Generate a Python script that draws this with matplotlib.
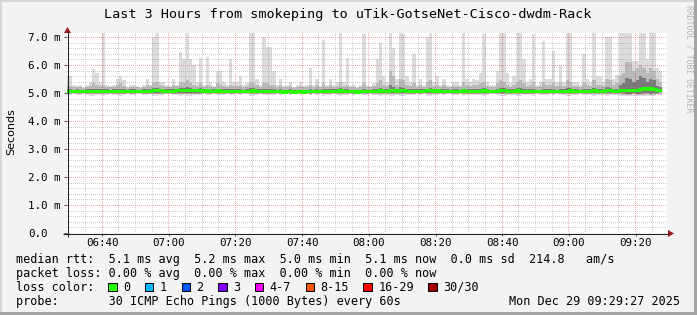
import matplotlib
matplotlib.use("Agg")
import matplotlib.pyplot as plt
import matplotlib.dates as mdates
import matplotlib.transforms as mtransforms
from matplotlib.patches import Rectangle, Polygon
from datetime import datetime, timedelta
import numpy as np


def vals(s):
    return [float(v) for v in s.split()]


# ---------------- data (one value per 60 s step, starting 06:29) ----------------
ping_max = vals("""
5.6 5.6 5.3 5.25 5.3 5.2 5.3 5.4 5.85 5.7
5.4 7.2 5.3 5.25 5.3 5.5 5.6 5.45 5.2 5.3
5.3 5.25 5.2 5.3 5.5 5.3 7.0 7.2 5.4 5.4
5.3 5.25 5.5 5.3 6.46 6.2 7.2 6.2 6.0 5.4
6.24 5.3 6.3 5.4 5.25 5.8 5.8 5.4 5.3 6.2
5.4 5.4 5.6 5.3 5.35 7.2 7.2 5.5 5.3 7.0
6.65 6.65 5.8 5.3 5.5 5.25 5.3 5.4 5.2 5.3
5.4 5.25 5.3 5.9 5.3 5.5 5.25 6.9 5.3 5.5
5.3 5.4 7.2 5.4 6.25 5.25 5.3 5.2 5.3 7.1
5.3 5.25 5.35 6.2 6.8 5.6 5.4 7.2 6.6 5.5
7.2 7.1 5.6 5.4 6.4 5.3 5.5 5.3 7.0 7.2
5.4 5.6 5.3 5.5 5.3 5.25 5.4 5.4 5.3 7.2
5.5 5.4 5.5 5.46 5.7 7.1 5.4 5.3 5.3 5.8
7.2 7.2 5.7 5.35 5.6 7.2 7.2 6.2 5.4 5.5
7.1 5.3 5.4 6.85 5.5 5.5 6.5 5.4 6.0 5.4
7.2 7.2 5.4 5.4 5.3 6.4 5.5 5.4 7.2 5.6
5.6 5.4 7.0 7.0 5.5 5.65 7.2 7.2 7.2 7.2
6.15 6.15 7.2 7.2 6.2 7.2 7.2 5.9 5.8
""")

ping_hi2 = vals("""
5.3 5.25 5.2 5.2 5.22 5.18 5.2 5.25 5.35 5.3
5.25 5.3 5.2 5.2 5.2 5.3 5.35 5.25 5.18 5.2
5.2 5.2 5.18 5.22 5.3 5.25 5.35 5.4 5.3 5.25
5.22 5.2 5.3 5.25 5.4 5.35 5.45 5.35 5.3 5.25
5.35 5.22 5.3 5.25 5.2 5.35 5.3 5.25 5.2 5.3
5.25 5.25 5.3 5.2 5.25 5.4 5.35 5.3 5.2 5.35
5.35 5.3 5.3 5.22 5.28 5.2 5.22 5.25 5.18 5.2
5.25 5.2 5.22 5.3 5.22 5.28 5.2 5.35 5.22 5.3
5.22 5.25 5.4 5.25 5.3 5.2 5.22 5.18 5.22 5.35
5.22 5.2 5.25 5.35 5.45 5.3 5.25 5.8 5.6 5.3
5.5 5.45 5.3 5.25 5.35 5.22 5.3 5.22 5.4 5.45
5.25 5.3 5.22 5.28 5.22 5.2 5.25 5.25 5.22 5.4
5.3 5.25 5.28 5.3 5.35 5.4 5.25 5.22 5.22 5.35
5.45 5.4 5.3 5.22 5.3 5.4 5.45 5.35 5.25 5.3
5.4 5.22 5.25 5.4 5.3 5.3 5.35 5.25 5.35 5.25
5.45 5.4 5.25 5.25 5.22 5.35 5.3 5.25 5.45 5.3
5.3 5.25 5.5 5.45 5.3 5.35 5.6 5.7 6.1 6.1
5.8 5.9 6.0 5.9 5.7 5.9 5.8 5.5 5.4
""")

ping_hi1 = vals("""
5.14 5.13 5.12 5.13 5.12 5.12 5.13 5.14 5.16 5.14
5.13 5.15 5.13 5.12 5.13 5.14 5.15 5.13 5.12 5.13
5.13 5.12 5.12 5.13 5.14 5.13 5.17 5.18 5.15 5.14
5.14 5.13 5.14 5.15 5.18 5.17 5.2 5.18 5.16 5.15
5.17 5.14 5.16 5.14 5.13 5.16 5.15 5.14 5.13 5.15
5.13 5.13 5.14 5.12 5.13 5.17 5.17 5.14 5.13 5.16
5.16 5.14 5.14 5.12 5.13 5.11 5.12 5.13 5.11 5.12
5.12 5.11 5.12 5.14 5.12 5.13 5.12 5.15 5.13 5.14
5.13 5.13 5.17 5.13 5.15 5.12 5.12 5.11 5.12 5.16
5.12 5.12 5.13 5.15 5.18 5.15 5.13 5.3 5.22 5.14
5.2 5.18 5.14 5.13 5.16 5.13 5.14 5.13 5.16 5.18
5.14 5.15 5.13 5.14 5.13 5.12 5.13 5.13 5.12 5.16
5.14 5.13 5.13 5.14 5.15 5.17 5.13 5.12 5.12 5.15
5.18 5.17 5.15 5.13 5.14 5.17 5.17 5.15 5.13 5.14
5.16 5.12 5.12 5.16 5.13 5.13 5.15 5.12 5.15 5.13
5.18 5.17 5.13 5.13 5.12 5.15 5.14 5.13 5.18 5.14
5.14 5.13 5.2 5.18 5.13 5.15 5.3 5.35 5.55 5.5
5.4 5.45 5.6 5.55 5.4 5.5 5.45 5.25 5.2
""")

median_rtt = vals("""
5.07 5.07 5.06 5.07 5.06 5.06 5.07 5.08 5.08 5.07
5.06 5.08 5.07 5.06 5.07 5.08 5.08 5.07 5.06 5.07
5.07 5.06 5.06 5.07 5.08 5.07 5.09 5.1 5.09 5.08
5.08 5.07 5.08 5.09 5.1 5.1 5.12 5.11 5.1 5.09
5.1 5.08 5.09 5.08 5.07 5.09 5.08 5.08 5.07 5.08
5.07 5.07 5.08 5.06 5.06 5.08 5.09 5.08 5.07 5.08
5.08 5.07 5.07 5.06 5.06 5.05 5.06 5.07 5.05 5.06
5.06 5.05 5.06 5.07 5.06 5.07 5.06 5.08 5.07 5.08
5.07 5.07 5.09 5.07 5.08 5.06 5.06 5.05 5.06 5.07
5.06 5.06 5.07 5.08 5.09 5.08 5.07 5.1 5.09 5.08
5.1 5.1 5.08 5.07 5.08 5.07 5.08 5.07 5.09 5.1
5.08 5.09 5.07 5.08 5.07 5.06 5.07 5.07 5.06 5.09
5.08 5.07 5.07 5.08 5.08 5.09 5.07 5.06 5.06 5.07
5.09 5.09 5.08 5.07 5.07 5.09 5.08 5.08 5.07 5.07
5.08 5.06 5.06 5.08 5.07 5.06 5.07 5.06 5.07 5.07
5.08 5.09 5.07 5.07 5.06 5.08 5.07 5.07 5.09 5.08
5.08 5.07 5.09 5.09 5.07 5.08 5.1 5.1 5.12 5.12
5.11 5.12 5.16 5.17 5.16 5.17 5.16 5.12 5.11
""")

ping_lo1 = vals("""
5.01 5.01 5.02 5.01 5.01 5.02 5.01 5.0 5.0 5.01
5.01 5.0 5.01 5.02 5.01 5.01 5.0 5.01 5.02 5.01
5.01 5.02 5.02 5.01 5.01 5.01 5.0 4.99 5.01 5.01
5.02 5.02 5.01 5.01 5.0 5.01 4.99 5.0 5.01 5.01
5.01 5.02 5.01 5.01 5.02 5.0 5.01 5.01 5.02 5.01
5.01 5.02 5.01 5.02 5.02 5.0 5.0 5.01 5.02 5.01
5.01 5.01 5.01 5.02 5.01 5.02 5.02 5.01 5.02 5.02
5.01 5.02 5.02 5.01 5.02 5.01 5.02 5.0 5.01 5.01
5.02 5.01 4.99 5.01 5.01 5.02 5.01 5.02 5.02 5.01
5.01 5.02 5.01 5.01 5.0 5.01 5.01 4.99 5.0 5.01
4.99 5.0 5.01 5.01 5.01 5.02 5.01 5.02 5.0 4.99
5.01 5.01 5.02 5.01 5.02 5.02 5.01 5.01 5.02 5.0
5.01 5.01 5.01 5.01 5.01 5.0 5.01 5.02 5.02 5.01
4.99 5.0 5.01 5.01 5.01 4.99 5.0 5.01 5.01 5.01
5.0 5.02 5.01 5.0 5.01 5.02 5.01 5.02 5.01 5.01
5.01 5.0 5.01 5.01 5.02 5.01 5.01 5.01 4.99 5.01
5.01 5.01 5.0 5.0 5.01 5.01 5.0 4.99 4.98 4.98
4.99 4.98 4.98 4.99 4.99 4.98 4.99 5.01 5.02
""")

ping_lo2 = vals("""
4.98 4.97 4.99 4.98 4.98 4.99 4.97 4.96 4.95 4.97
4.98 4.96 4.98 4.99 4.98 4.97 4.96 4.97 4.99 4.98
4.98 4.99 4.99 4.98 4.97 4.98 4.96 4.95 4.97 4.98
4.99 4.99 4.98 4.98 4.96 4.97 4.95 4.96 4.97 4.98
4.97 4.99 4.97 4.98 4.99 4.97 4.98 4.98 4.99 4.97
4.98 4.99 4.97 4.99 4.99 4.96 4.96 4.97 4.99 4.97
4.97 4.98 4.98 4.99 4.98 4.99 4.99 4.98 4.99 4.99
4.98 4.99 4.99 4.97 4.99 4.98 4.99 4.96 4.98 4.98
4.99 4.98 4.95 4.98 4.97 4.99 4.98 4.99 4.99 4.97
4.98 4.99 4.98 4.97 4.96 4.97 4.98 4.95 4.96 4.97
4.95 4.96 4.97 4.98 4.97 4.99 4.97 4.99 4.96 4.95
4.98 4.97 4.99 4.98 4.99 4.99 4.98 4.98 4.99 4.96
4.97 4.98 4.98 4.97 4.97 4.96 4.98 4.99 4.99 4.97
4.95 4.96 4.97 4.98 4.97 4.95 4.96 4.97 4.98 4.97
4.96 4.99 4.98 4.96 4.98 4.99 4.97 4.99 4.97 4.98
4.97 4.96 4.98 4.98 4.99 4.97 4.98 4.98 4.95 4.97
4.97 4.98 4.96 4.96 4.98 4.97 4.95 4.94 4.93 4.93
4.95 4.94 4.93 4.94 4.95 4.93 4.94 4.97 4.98
""")

ping_min = vals("""
4.93 4.92 4.95 4.94 4.93 4.95 4.92 4.9 4.88 4.92
4.94 4.91 4.93 4.95 4.94 4.92 4.9 4.93 4.95 4.94
4.93 4.95 4.96 4.94 4.92 4.95 4.9 4.88 4.93 4.94
4.95 4.96 4.94 4.93 4.9 4.92 4.88 4.91 4.93 4.94
4.92 4.95 4.93 4.94 4.95 4.92 4.93 4.94 4.95 4.92
4.94 4.95 4.93 4.96 4.95 4.9 4.91 4.93 4.95 4.92
4.92 4.93 4.94 4.95 4.94 4.96 4.95 4.94 4.96 4.95
4.94 4.96 4.95 4.92 4.95 4.94 4.96 4.91 4.94 4.93
4.95 4.94 4.89 4.93 4.92 4.95 4.94 4.96 4.95 4.92
4.94 4.95 4.94 4.92 4.91 4.93 4.94 4.9 4.91 4.93
4.9 4.91 4.93 4.94 4.92 4.95 4.93 4.95 4.91 4.9
4.94 4.93 4.95 4.94 4.95 4.96 4.94 4.94 4.95 4.91
4.93 4.94 4.94 4.93 4.92 4.91 4.94 4.95 4.95 4.92
4.9 4.91 4.93 4.94 4.93 4.9 4.91 4.92 4.94 4.93
4.91 4.95 4.94 4.92 4.94 4.95 4.93 4.95 4.93 4.94
4.91 4.9 4.94 4.94 4.95 4.92 4.94 4.94 4.9 4.93
4.93 4.94 4.91 4.92 4.94 4.93 4.9 4.89 4.88 4.88
4.9 4.89 4.88 4.89 4.9 4.88 4.89 4.92 4.93
""")

title = "Last 3 Hours from smokeping to uTik-GotseNet-Cisco-dwdm-Rack"
y_label = "Seconds"
x_tick_labels = ["06:40", "07:00", "07:20", "07:40", "08:00", "08:20", "08:40", "09:00", "09:20"]
y_tick_values = [0, 1, 2, 3, 4, 5, 6, 7]
y_tick_labels = ["0.0", "1.0 m", "2.0 m", "3.0 m", "4.0 m", "5.0 m", "6.0 m", "7.0 m"]
legend_rtt = "median rtt:  5.1 ms avg  5.2 ms max  5.0 ms min  5.1 ms now  0.0 ms sd  214.8   am/s"
legend_loss = "packet loss: 0.00 % avg  0.00 % max  0.00 % min  0.00 % now"
legend_color_title = "loss color:"
loss_labels = ["0", "1", "2", "3", "4-7", "8-15", "16-29", "30/30"]
loss_colors = ["#26ff00", "#00b8ff", "#0059ff", "#7e00ff", "#ee00ff", "#ff5500", "#ff0000", "#a10000"]
legend_probe = "probe:       30 ICMP Echo Pings (1000 Bytes) every 60s"
timestamp = "Mon Dec 29 09:29:27 2025"
watermark = "RRDTOOL / TOBI OETIKER"

day = datetime(2025, 12, 29)
first_step = datetime(2025, 12, 29, 6, 29)
view_start = datetime(2025, 12, 29, 6, 29, 27)
view_end = view_start + timedelta(hours=3)

# ---------------- figure ----------------
W, H = 697, 315
BG = "#f3f3f3"
fig = plt.figure(figsize=(W / 100, H / 100), dpi=100, facecolor=BG)

# plot canvas: 600 x 200 pixels, left edge at x=67, top at y=33 (image coordinates)
PW, PH = 600, 200
x0, y_top = 67, 33
ax = fig.add_axes([x0 / W, (H - y_top - PH) / H, PW / W, PH / H])
ax.set_facecolor("white")
for s in ax.spines.values():
    s.set_visible(False)
xa, xb = mdates.date2num(view_start), mdates.date2num(view_end)
ax.set_xlim(xa, xb)
ymax = PH / 28.0
ax.set_ylim(0, ymax)

n = len(median_rtt)
edges = [mdates.date2num(first_step + timedelta(minutes=i)) for i in range(n + 1)]


def ext(a):
    return list(a) + [a[-1]]


ax.fill_between(edges, ext(ping_min), ext(ping_max), step="post", color="#dcdcdc", lw=0, zorder=1)
ax.fill_between(edges, ext(ping_lo2), ext(ping_hi2), step="post", color="#bababa", lw=0, zorder=1.1)
ax.fill_between(edges, ext(ping_lo1), ext(ping_hi1), step="post", color="#7a7a7a", lw=0, zorder=1.2)
ax.step(edges, ext(median_rtt), where="post", color="#26ff00", lw=2.2, zorder=4,
        solid_capstyle="butt", solid_joinstyle="miter")

# grid as a pixel-exact dotted overlay image (1 px on / 1 px off)
minor_rgba = (0.56, 0.56, 0.56, 0.42)
major_rgba = (0.87, 0.19, 0.19, 0.42)
grid = np.zeros((PH, PW, 4))
t = datetime(2025, 12, 29, 6, 30)
while t <= view_end:
    col = int((mdates.date2num(t) - xa) / (xb - xa) * PW)
    if 0 <= col < PW:
        grid[0::2, col] = major_rgba if t.minute % 20 == 0 else minor_rgba
    t += timedelta(minutes=5)
for k in range(1, 36):
    v = k * 0.2
    row = PH - int(round(v / ymax * PH))
    if 0 <= row < PH:
        grid[row, 0::2] = major_rgba if k % 5 == 0 else minor_rgba
ax.imshow(grid, extent=(xa, xb, 0, ymax), origin="upper", aspect="auto",
          interpolation="nearest", zorder=2.5)

# ticks (positions from tick label list)
tick_times = [mdates.date2num(datetime.combine(day.date(), datetime.strptime(s, "%H:%M").time()))
              for s in x_tick_labels]
ax.set_xticks(tick_times)
ax.set_yticks(y_tick_values)
ax.tick_params(axis="both", direction="out", length=2.2, width=0.72, color="#555555",
               labelbottom=False, labelleft=False)

mono = "DejaVu Sans Mono"
tx = mtransforms.blended_transform_factory(ax.transData, ax.transAxes)
tx = mtransforms.offset_copy(tx, fig=fig, x=0, y=-13.0, units="dots")
for tt, lab in zip(tick_times, x_tick_labels):
    ax.text(tt, 0, lab, transform=tx, ha="center", va="baseline", family=mono, fontsize=7.8,
            color="black", clip_on=False)
ty = mtransforms.blended_transform_factory(ax.transAxes, ax.transData)
ty = mtransforms.offset_copy(ty, fig=fig, x=0, y=-3.8, units="dots")
for v, lab in zip(y_tick_values, y_tick_labels):
    ax.text((28 - x0) / PW, v, lab, transform=ty, ha="left", va="baseline",
            family=mono, fontsize=7.8, color="black", clip_on=False)

# ---------------- overlay in pixel coordinates ----------------
ov = fig.add_axes([0, 0, 1, 1], zorder=5)
ov.set_xlim(0, W)
ov.set_ylim(H, 0)
ov.axis("off")

# frame shading
ov.add_patch(Rectangle((0, 0), W, 2, color="#d6d6d6", lw=0))
ov.add_patch(Rectangle((0, 0), 2, H, color="#d6d6d6", lw=0))
ov.add_patch(Rectangle((0, H - 3), W, 3, color="#a4a4a4", lw=0))
ov.add_patch(Rectangle((W - 3, 0), 3, H, color="#a4a4a4", lw=0))

# axes lines and arrows
ov.plot([63, 668], [233.5, 233.5], color="#222222", lw=0.75, solid_capstyle="butt")
ov.plot([67.5, 67.5], [237, 32], color="#222222", lw=0.75, solid_capstyle="butt")
ov.add_patch(Polygon([(668, 230), (674, 233.5), (668, 237)], closed=True, color="#9c1c1c", lw=0))
ov.add_patch(Polygon([(64, 33), (67.5, 27), (71, 33)], closed=True, color="#9c1c1c", lw=0))

# title and side texts
ov.text(348, 18, title, ha="center", va="baseline", family=mono, fontsize=9.7, color="black")
ov.text(11, 132, y_label, ha="center", va="center", rotation=90, family="DejaVu Sans",
        fontsize=8.0, color="black")
ov.text(688.5, 59, watermark, ha="center", va="center", rotation=270, family=mono,
        fontsize=5.9, color="#b4b4b4")

# legend
lx = 16
cw = 7.1
lsize = 8.5
ov.text(lx, 263, legend_rtt, ha="left", va="baseline", family=mono, fontsize=lsize)
ov.text(lx, 277, legend_loss, ha="left", va="baseline", family=mono, fontsize=lsize)
ov.text(lx, 291, legend_color_title, ha="left", va="baseline", family=mono, fontsize=lsize)
ov.text(lx, 305, legend_probe, ha="left", va="baseline", family=mono, fontsize=lsize)
ov.text(680, 305, timestamp, ha="right", va="baseline", family=mono, fontsize=lsize)

bx = lx + 13 * cw
for lab, col in zip(loss_labels, loss_colors):
    ov.add_patch(Rectangle((bx, 282.5), 8.5, 8.5, facecolor=col, edgecolor="black", lw=0.72))
    tx0 = bx + 15
    ov.text(tx0, 291, lab, ha="left", va="baseline", family=mono, fontsize=lsize)
    bx = tx0 + len(lab) * cw + 14.5

fig.savefig("out.png", dpi=100, facecolor=BG)
